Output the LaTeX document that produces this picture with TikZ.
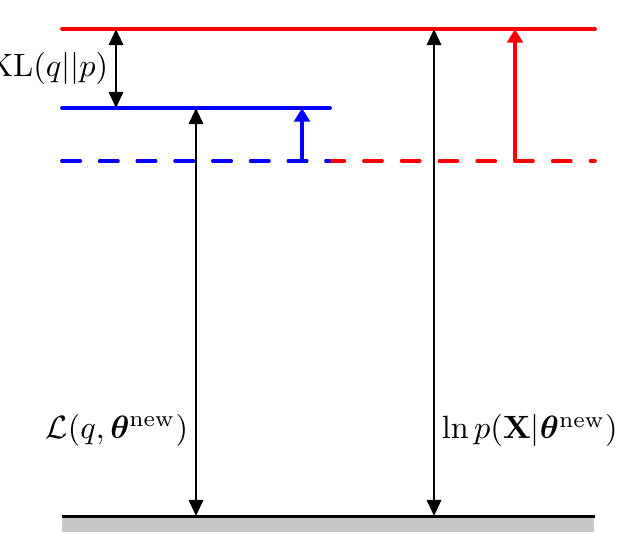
\documentclass[tikz,border=0pt]{standalone}
\usepackage{amsmath,amssymb,bm}
\usepackage{tikz}
\usepackage{xcolor}
\usetikzlibrary{arrows.meta,calc}
\definecolor{upper}{HTML}{FF0000}
\definecolor{lower}{HTML}{0000FF}
\definecolor{ink}{HTML}{000000}
\definecolor{ground}{HTML}{C8C8C8}
\tikzset{
  level/.style={line width=1.15pt, line cap=round},
  dashlevel/.style={level, dash pattern=on 5.6pt off 6.1pt},
  gap/.style={{Triangle[length=5pt,width=4.4pt]}-{Triangle[length=5pt,width=4.4pt]},
              line width=0.9pt, draw=ink},
  lift/.style={-{Triangle[length=4.2pt,width=4.8pt]}, line width=1.15pt},
  lab/.style={inner sep=2pt, font=\normalsize}
}

\begin{document}
\begin{tikzpicture}[x=0.31pt,y=-0.31pt]
        \useasboundingbox (0,0) rectangle (634,547);

        % ground
        \fill[ground] (62,516) rectangle (594,532);
        \draw[line width=0.95pt,draw=ink] (62,516) -- (595,516);

        % levels
        \draw[level,draw=upper] (62,29) -- (595,29);
        \draw[level,draw=lower] (62,108) -- (330,108);
        \draw[dashlevel,draw=upper] (62,161) -- (595,161);
        \draw[dashlevel,draw=lower] (62,161) -- (329,161);

        % end points of the gaps
        \coordinate (klTop) at (116,29);
        \coordinate (klBot) at (116,108);
        \coordinate (elboTop) at (196,108);
        \coordinate (elboBot) at (196,516);
        \coordinate (lnpTop) at (434,29);
        \coordinate (lnpBot) at (434,516);
        \coordinate (eFrom) at (302,161);
        \coordinate (eTo) at (302,108);
        \coordinate (mFrom) at (515,161);
        \coordinate (mTo) at (515,29);

        % steps
        \draw[lift,draw=lower,fill=lower] (eFrom) -- (eTo);
        \draw[lift,draw=upper,fill=upper] (mFrom) -- (mTo);

        % gaps
        \draw[gap] (klTop) -- (klBot)
          node[lab,midway,left] (kl) {$\mathrm{KL}(q||p)$};
        \draw[gap] (elboTop) -- (elboBot)
          node[lab,pos=0.79,left] (elbo) {$\mathcal{L}(q,\boldsymbol{\theta}^{\mathrm{new}})$};
        \draw[gap] (lnpTop) -- (lnpBot)
          node[lab,pos=0.825,right] (lnp) {$\ln p(\mathbf{X}|\boldsymbol{\theta}^{\mathrm{new}})$};
      \end{tikzpicture}
\end{document}
